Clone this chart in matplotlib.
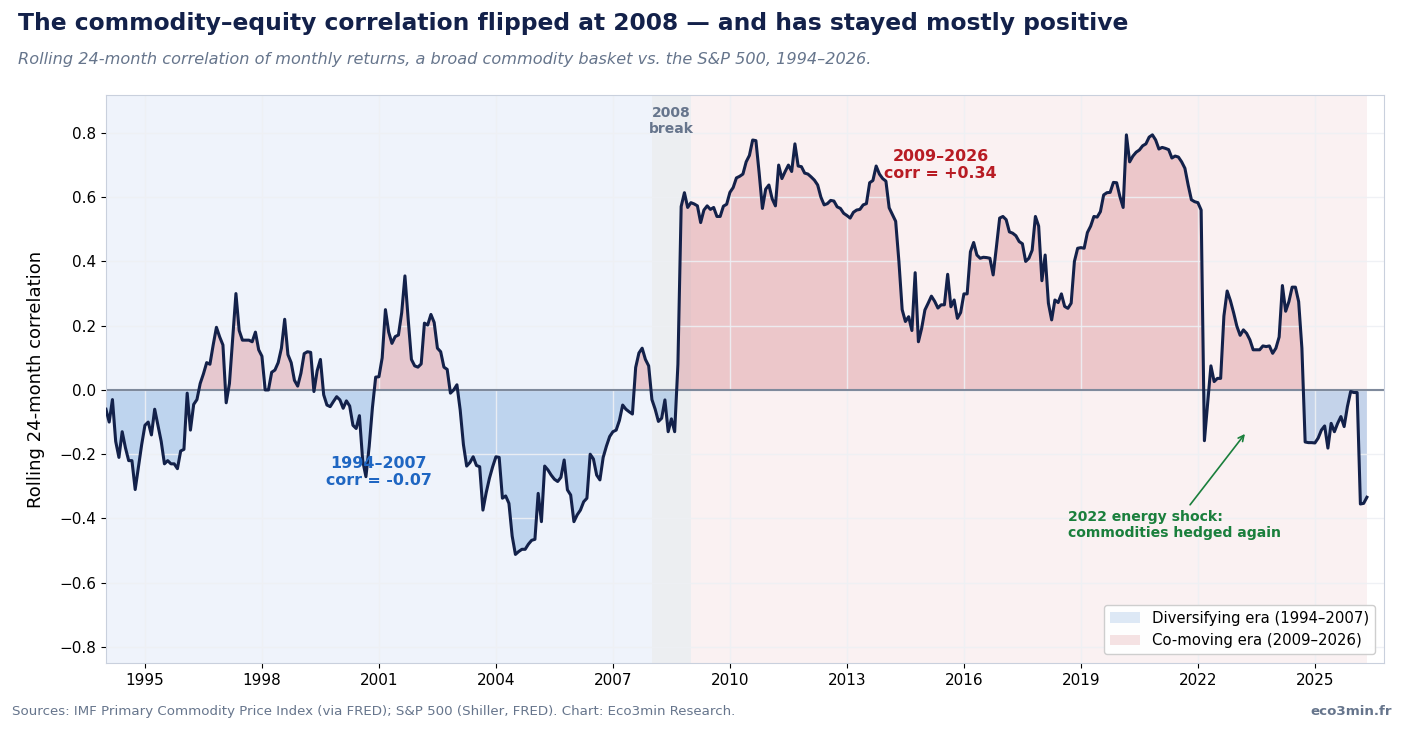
import matplotlib
matplotlib.use("Agg")
import matplotlib.pyplot as plt
from matplotlib.patches import Patch
import numpy as np

# monthly rolling 24m correlation, 1994-01 .. 2026-05
corr = [
  # 1994
  -0.06, -0.10, -0.03, -0.16, -0.21, -0.13, -0.18, -0.22, -0.22, -0.31, -0.24, -0.17,
  # 1995
  -0.11, -0.10, -0.14, -0.06, -0.11, -0.16, -0.23, -0.22, -0.23, -0.23, -0.245, -0.19,
  # 1996
  -0.185, -0.01, -0.125, -0.045, -0.03, 0.02, 0.05, 0.085, 0.08, 0.14, 0.195, 0.165,
  # 1997
  0.14, -0.04, 0.02, 0.16, 0.30, 0.185, 0.155, 0.155, 0.155, 0.15, 0.18, 0.125,
  # 1998
  0.105, 0.0, 0.0, 0.055, 0.062, 0.085, 0.13, 0.22, 0.11, 0.085, 0.03, 0.012,
  # 1999
  0.052, 0.113, 0.119, 0.117, -0.005, 0.06, 0.095, -0.015, -0.047, -0.052, -0.036, -0.021,
  # 2000
  -0.031, -0.057, -0.034, -0.05, -0.11, -0.12, -0.08, -0.22, -0.27, -0.176, -0.055, 0.04,
  # 2001
  0.041, 0.10, 0.25, 0.18, 0.145, 0.166, 0.171, 0.24, 0.355, 0.22, 0.095, 0.075,
  # 2002
  0.071, 0.081, 0.208, 0.202, 0.235, 0.21, 0.13, 0.119, 0.071, 0.064, -0.01, 0.0,
  # 2003
  0.016, -0.062, -0.17, -0.237, -0.226, -0.208, -0.235, -0.239, -0.374, -0.32, -0.275, -0.239,
  # 2004
  -0.208, -0.21, -0.337, -0.33, -0.353, -0.455, -0.512, -0.503, -0.496, -0.496, -0.48, -0.468,
  # 2005
  -0.465, -0.322, -0.41, -0.237, -0.249, -0.265, -0.278, -0.285, -0.272, -0.218, -0.311, -0.327,
  # 2006
  -0.41, -0.389, -0.374, -0.348, -0.337, -0.20, -0.215, -0.265, -0.28, -0.21, -0.175, -0.145,
  # 2007
  -0.13, -0.125, -0.095, -0.047, -0.06, -0.068, -0.075, 0.07, 0.115, 0.13, 0.095, 0.075,
  # 2008
  -0.03, -0.06, -0.098, -0.088, -0.031, -0.13, -0.09, -0.13, 0.08, 0.571, 0.614, 0.568,
  # 2009
  0.583, 0.579, 0.573, 0.521, 0.56, 0.573, 0.562, 0.568, 0.54, 0.54, 0.572, 0.578,
  # 2010
  0.615, 0.63, 0.66, 0.665, 0.672, 0.71, 0.73, 0.778, 0.776, 0.675, 0.565, 0.625,
  # 2011
  0.638, 0.595, 0.573, 0.70, 0.658, 0.68, 0.70, 0.68, 0.766, 0.697, 0.695, 0.675,
  # 2012
  0.672, 0.663, 0.653, 0.638, 0.60, 0.576, 0.58, 0.59, 0.588, 0.57, 0.565, 0.55,
  # 2013
  0.543, 0.535, 0.553, 0.56, 0.562, 0.576, 0.58, 0.645, 0.652, 0.697, 0.672, 0.658,
  # 2014
  0.65, 0.567, 0.546, 0.525, 0.40, 0.25, 0.213, 0.228, 0.185, 0.365, 0.15, 0.192,
  # 2015
  0.249, 0.27, 0.292, 0.276, 0.255, 0.265, 0.265, 0.36, 0.259, 0.28, 0.223, 0.241,
  # 2016
  0.299, 0.299, 0.43, 0.459, 0.42, 0.41, 0.413, 0.412, 0.41, 0.358, 0.445, 0.535,
  # 2017
  0.54, 0.53, 0.492, 0.488, 0.48, 0.462, 0.455, 0.40, 0.41, 0.435, 0.54, 0.51,
  # 2018
  0.34, 0.42, 0.27, 0.218, 0.28, 0.272, 0.299, 0.26, 0.254, 0.27, 0.40, 0.441,
  # 2019
  0.443, 0.441, 0.49, 0.51, 0.54, 0.538, 0.555, 0.607, 0.614, 0.615, 0.646, 0.645,
  # 2020
  0.602, 0.568, 0.794, 0.71, 0.728, 0.74, 0.747, 0.76, 0.766, 0.787, 0.794, 0.778,
  # 2021
  0.75, 0.755, 0.752, 0.748, 0.722, 0.728, 0.725, 0.71, 0.69, 0.638, 0.592, 0.586,
  # 2022
  0.583, 0.56, -0.158, -0.04, 0.075, 0.026, 0.036, 0.036, 0.23, 0.308, 0.278, 0.24,
  # 2023
  0.198, 0.17, 0.187, 0.176, 0.156, 0.125, 0.125, 0.125, 0.137, 0.135, 0.137, 0.114,
  # 2024
  0.13, 0.165, 0.325, 0.245, 0.275, 0.32, 0.32, 0.275, 0.13, -0.162, -0.164, -0.164,
  # 2025
  -0.165, -0.15, -0.125, -0.112, -0.181, -0.104, -0.13, -0.104, -0.083, -0.114, -0.052, -0.005,
  # 2026
  -0.008, -0.008, -0.355, -0.353, -0.334,
]
start_year = 1994
era1_label = "Diversifying era (1994\u20132007)"
era2_label = "Co-moving era (2009\u20132026)"
era1_stat = "1994\u20132007\ncorr = -0.07"
era2_stat = "2009\u20132026\ncorr = +0.34"
year_ticks = list(range(1995, 2026, 3))
y_ticks = [-0.8, -0.6, -0.4, -0.2, 0.0, 0.2, 0.4, 0.6, 0.8]

NAVY = "#13214a"
GREY_TXT = "#66758c"

v = np.array(corr)
t = start_year + np.arange(len(v)) / 12.0

fig = plt.figure(figsize=(14.05, 7.31), dpi=100)
ax = fig.add_axes([0.0754, 0.093, 0.9096, 0.777])

# era shading
ax.axvspan(t[0], 2008.0, color="#eff3fb", lw=0, zorder=0)
ax.axvspan(2008.0, 2009.0, color="#eceef1", lw=0, zorder=0)
ax.axvspan(2009.0, t[-1], color="#faf1f2", lw=0, zorder=0)

# positive / negative fill
ax.fill_between(t, v, 0, where=v >= 0, interpolate=True, color="#d9898f", alpha=0.4, lw=0, zorder=1)
ax.fill_between(t, v, 0, where=v <= 0, interpolate=True, color="#8fb7e3", alpha=0.5, lw=0, zorder=1)

ax.axhline(0, color="#7f8a9c", lw=1.5, zorder=2)
ax.plot(t, v, color=NAVY, lw=2.2, zorder=3)

ax.set_axisbelow("line")
ax.grid(True, color="#eef0f4", lw=1.0, alpha=0.9)

ax.set_xlim(t[0], 2026.77)
ax.set_ylim(-0.85, 0.918)
ax.set_xticks(year_ticks)
ax.set_yticks(y_ticks)
ax.tick_params(labelsize=11)
ax.set_ylabel("Rolling 24-month correlation", fontsize=13, labelpad=10)
for s in ax.spines.values():
  s.set_color("#c9d0dd")

# annotations
ax.text(2001.0, -0.255, era1_stat, ha="center", va="center", fontsize=11.4,
        fontweight="bold", color="#1f66c2")
ax.text(2015.4, 0.70, era2_stat, ha="center", va="center", fontsize=11.4,
        fontweight="bold", color="#b81c24")
ax.text(2008.5, 0.837, "2008\nbreak", ha="center", va="center", fontsize=10,
        fontweight="bold", color=GREY_TXT)
ax.annotate("2022 energy shock:\ncommodities hedged again", xy=(2023.25, -0.13),
            xytext=(2018.67, -0.42), ha="left", va="center", fontsize=10.1,
            fontweight="bold", color="#1a7f3c",
            arrowprops=dict(arrowstyle="->", color="#1a7f3c", lw=1.2))

handles = [Patch(facecolor="#dde8f5", edgecolor="none", label=era1_label),
           Patch(facecolor="#f5e2e3", edgecolor="none", label=era2_label)]
ax.legend(handles=handles, loc="lower right", fontsize=10.75, framealpha=0.95,
          edgecolor="#cccccc", borderaxespad=0.6)

fig.text(0.0128, 0.968, "The commodity\u2013equity correlation flipped at 2008 \u2014 and has stayed mostly positive",
         fontsize=16.8, fontweight="bold", color=NAVY, va="center")
fig.text(0.0128, 0.919, "Rolling 24-month correlation of monthly returns, a broad commodity basket vs. the S&P 500, 1994\u20132026.",
         fontsize=11.6, style="italic", color=GREY_TXT, va="center")
fig.text(0.0085, 0.026, "Sources: IMF Primary Commodity Price Index (via FRED); S&P 500 (Shiller, FRED). Chart: Eco3min Research.",
         fontsize=9.6, color=GREY_TXT, va="center")
fig.text(0.991, 0.026, "eco3min.fr", fontsize=9.6, fontweight="bold", color=GREY_TXT,
         ha="right", va="center")

fig.savefig("out.png", dpi=100)
